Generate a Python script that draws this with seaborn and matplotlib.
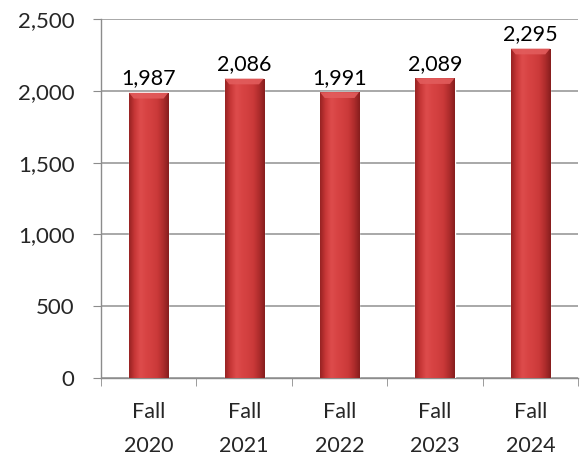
import numpy as np
import pandas as pd
import seaborn as sns
import matplotlib.pyplot as plt
from matplotlib.colors import LinearSegmentedColormap
from matplotlib.ticker import FuncFormatter, MultipleLocator
from matplotlib.patches import Polygon

terms = ["Fall\n2020", "Fall\n2021", "Fall\n2022", "Fall\n2023", "Fall\n2024"]
enrollment = [1987, 2086, 1991, 2089, 2295]

df = pd.DataFrame({"term": terms, "enrollment": enrollment})

sns.set_style("white")
plt.rcParams["font.family"] = ["Lato", "DejaVu Sans"]

fig = plt.figure(figsize=(5.87, 4.57), dpi=100)
ax = fig.add_axes([0.172, 0.173, 0.813, 0.785])

sns.barplot(data=df, x="term", y="enrollment", color="#cc3333", width=0.41,
            ax=ax, zorder=3)

# horizontal shading like the excel bevel look
shade = LinearSegmentedColormap.from_list(
    "barshade",
    ["#962222", "#c83737", "#de4c4c", "#d84444", "#d23f3f", "#ca3939", "#ae2c2c", "#851d1d"])
grad = np.linspace(0, 1, 256).reshape(1, -1)
for bar in ax.patches:
    x0, w, h = bar.get_x(), bar.get_width(), bar.get_height()
    im = ax.imshow(grad, cmap=shade, aspect="auto", extent=[x0, x0 + w, 0, h],
                   zorder=4, interpolation="bicubic")
    im.set_clip_path(bar)
    # lighter bevel on top
    bev = 40
    inset = w * 0.12
    top = Polygon([[x0, h], [x0 + w, h], [x0 + w - inset, h - bev], [x0 + inset, h - bev]],
                  closed=True, facecolor="#e25c5c", edgecolor="none", zorder=5, alpha=0.9)
    ax.add_patch(top)
    ax.text(x0 + w / 2, h + 58, f"{int(h):,}", ha="center", va="baseline",
            fontsize=15.5, color="black", zorder=6)

ax.set_xlim(-0.5, 4.5)
ax.set_ylim(0, 2500)
ax.yaxis.set_major_locator(MultipleLocator(500))
ax.yaxis.set_major_formatter(FuncFormatter(lambda v, p: f"{int(v):,}"))
ax.grid(axis="y", color="#9a9a9a", linewidth=1.2, zorder=0)
ax.grid(axis="x", visible=False)

for s in ["top", "right"]:
    ax.spines[s].set_visible(False)
for s in ["left", "bottom"]:
    ax.spines[s].set_color("#8c8c8c")
    ax.spines[s].set_linewidth(1.0)

ax.set_xlabel("")
ax.set_ylabel("")
ax.set_xticks(np.arange(-0.5, 5, 1), minor=True)
ax.tick_params(axis="x", which="major", length=0, pad=17, labelsize=15.5)
ax.tick_params(axis="x", which="minor", length=6, color="#8c8c8c", direction="out", bottom=True)
ax.tick_params(axis="y", length=6, color="#8c8c8c", direction="out", left=True,
               labelsize=16, pad=13)
for lbl in ax.get_xticklabels():
    lbl.set_linespacing(1.9)

fig.savefig("out.png", dpi=100, facecolor="white")
